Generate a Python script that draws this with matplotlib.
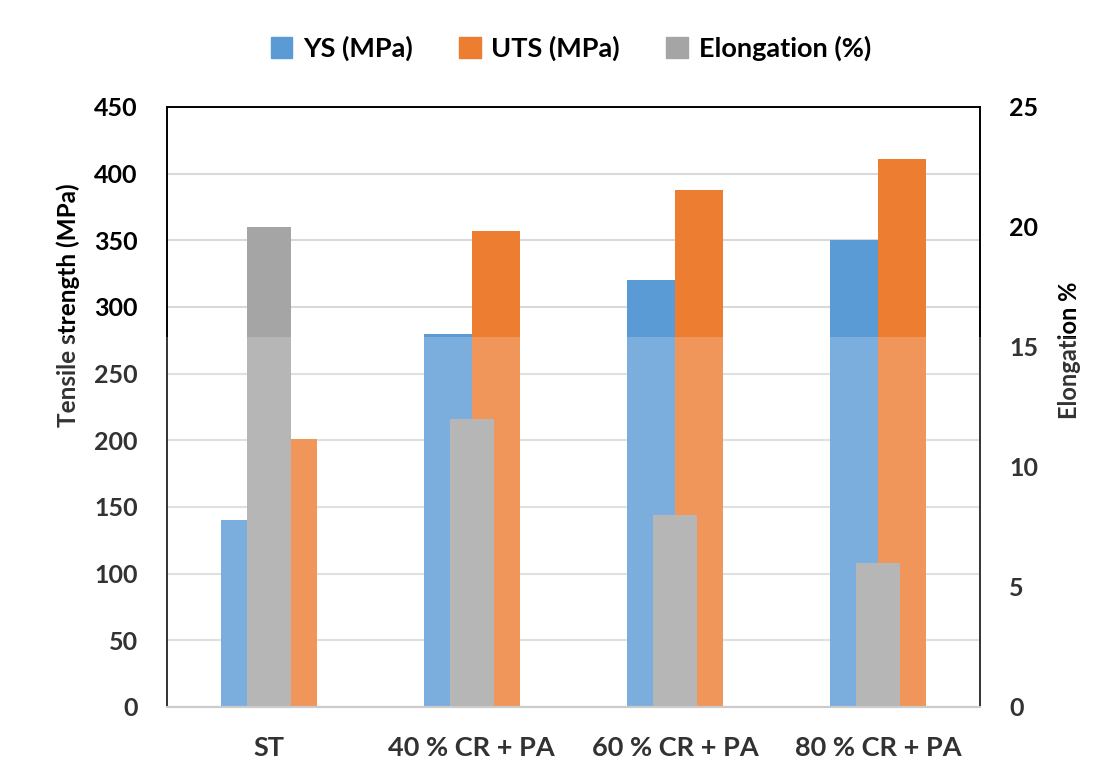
import matplotlib.pyplot as plt
import numpy as np
from matplotlib.patches import Rectangle, Patch

plt.rcParams['font.family'] = ['Lato', 'DejaVu Sans']
plt.rcParams['font.weight'] = 'bold'
plt.rcParams['axes.labelweight'] = 'bold'

categories = ['ST', '40 % CR + PA', '60 % CR + PA', '80 % CR + PA']
ys_mpa = [140, 280, 320, 350]
uts_mpa = [201, 357, 388, 411]
elongation = [20, 12, 8, 6]

blue = '#5B9BD5'
orange = '#ED7D31'
gray = '#A5A5A5'

fig = plt.figure(figsize=(11.19, 7.81), dpi=100)
ax = fig.add_axes([0.1492, 0.0948, 0.7266, 0.7682])
ax2 = ax.twinx()

x = np.arange(len(categories))
w = 0.236
ax.bar(x - w / 2, ys_mpa, w, color=blue, zorder=2)
ax.bar(x + w / 2, uts_mpa, w, color=orange, zorder=2)
ax2.bar(x, elongation, 0.217, color=gray, zorder=2)

ax.set_xlim(-0.5, 3.5)
ax.set_ylim(0, 450)
ax.set_yticks(np.arange(0, 451, 50))
ax2.set_ylim(0, 25)
ax2.set_yticks(np.arange(0, 26, 5))

ax.yaxis.grid(True, color='#d9d9d9', lw=1.5, zorder=0)
ax.set_axisbelow(True)

ax.set_xticks(x)
ax.set_xticklabels(categories, fontweight='bold')
ax.tick_params(axis='x', length=0, pad=21, labelsize=19.5)
ax.tick_params(axis='y', length=0, pad=21, labelsize=18)
ax2.tick_params(axis='y', length=0, pad=21, labelsize=18)
for lbl in ax.get_yticklabels() + ax2.get_yticklabels():
    lbl.set_fontweight('bold')

for a in (ax, ax2):
    for side in ('left', 'right', 'top'):
        a.spines[side].set_color('black')
        a.spines[side].set_linewidth(1.2)
    a.spines['bottom'].set_color('#bfbfbf')
    a.spines['bottom'].set_linewidth(1.5)

ax.set_ylabel('Tensile strength (MPa)', fontsize=17.5, fontweight='bold', labelpad=10)
ax2.set_ylabel('Elongation %', fontsize=17, fontweight='bold', labelpad=14)
ax.yaxis.label.set_y(0.67)
ax2.yaxis.label.set_y(0.595)

handles = [Patch(color=blue), Patch(color=orange), Patch(color=gray)]
fig.legend(handles, ['YS (MPa)', 'UTS (MPa)', 'Elongation (%)'],
           loc='center', bbox_to_anchor=(0.51, 0.938), ncol=3, frameon=False,
           prop={'size': 19.5, 'weight': 'bold'}, handlelength=0.8,
           handleheight=0.8, handletextpad=0.4, columnspacing=1.7)

# faded lower band of the scan
fig.patches.append(Rectangle((0, 0), 1, 1 - 337 / 781, transform=fig.transFigure,
                             facecolor='white', alpha=0.2, zorder=10, lw=0))

fig.savefig('out.png', dpi=100)
